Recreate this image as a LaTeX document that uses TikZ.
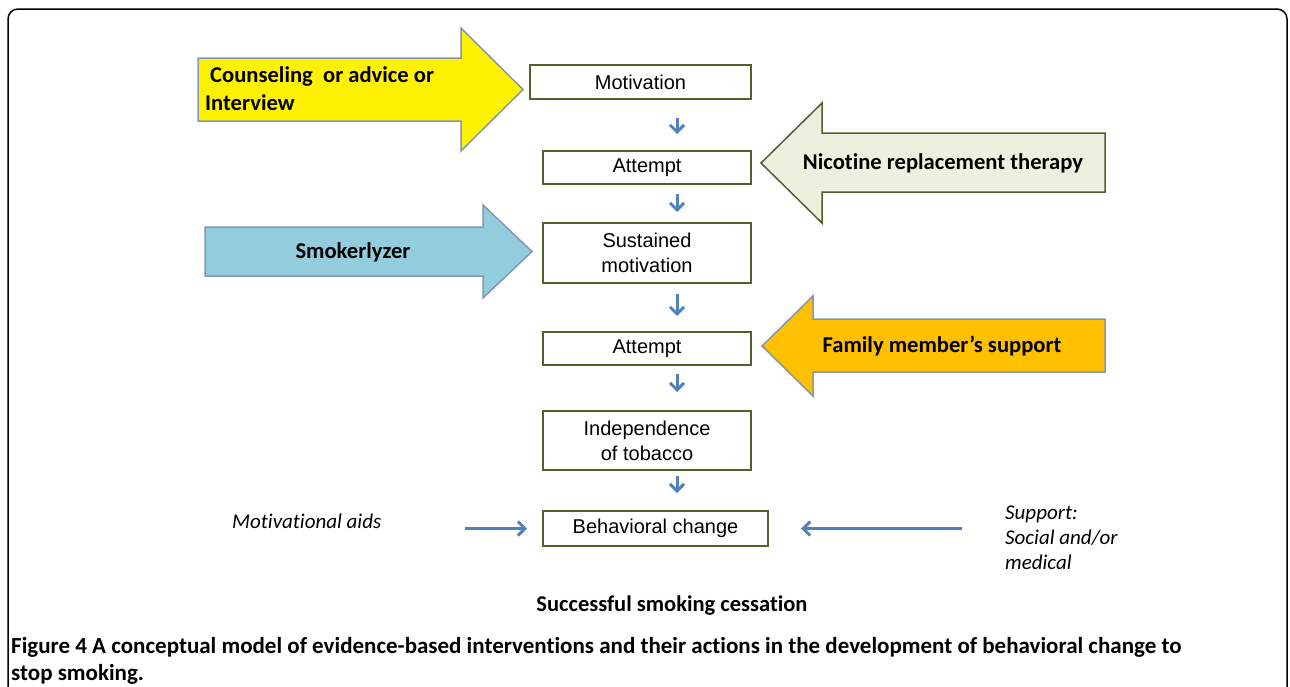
\documentclass[tikz,border=0pt]{standalone}
\usepackage{fontspec}
\setmainfont{Carlito}[Ligatures=NoCommon]
\newfontfamily\arialfont{Liberation Sans}
\usetikzlibrary{arrows.meta}
\definecolor{boxgreen}{HTML}{4F6228}
\definecolor{flowblue}{HTML}{4F81BD}
\definecolor{edgeblue}{HTML}{8497B0}
\definecolor{nrtfill}{HTML}{EBF1DE}
\definecolor{smokefill}{HTML}{93CDDD}
\definecolor{famfill}{HTML}{FFC000}
\begin{document}
\begin{tikzpicture}[x=1pt,y=-1pt,
  stage/.style={draw=boxgreen,line width=2pt,fill=white,inner sep=0pt,align=center,font=\arialfont\fontsize{20}{25}\selectfont},
  flow/.style={draw=flowblue,line width=3pt,-{Straight Barb[length=7pt,width=14pt]}},
  aid/.style={line width=1.5pt,line join=miter},
  aidtext/.style={font=\bfseries\fontsize{22.6}{28}\selectfont,align=left,inner sep=0pt},
  note/.style={font=\itshape\fontsize{21}{25}\selectfont,align=left,anchor=west,inner sep=0pt}]
\useasboundingbox (0,0) rectangle (1290,686);
\clip (0,0) rectangle (1290,686);
\draw[line width=1.5pt,rounded corners=10pt] (8,9) rectangle (1287,720);
% interventions
\draw[aid,draw=edgeblue,fill=yellow] (198,58) -- (461,58) -- (461,28) -- (523,89.5) -- (461,151) -- (461,121) -- (198,121) -- cycle;
\node[aidtext,anchor=west] (couns) at (205,89) {\hspace{5pt}Counseling\ \ or advice or\\Interview};
\draw[aid,draw=boxgreen,fill=nrtfill] (761,163) -- (822,103) -- (822,133) -- (1105,133) -- (1105,192) -- (822,192) -- (822,223) -- cycle;
\node[aidtext] (nrt) at (943,163) {Nicotine replacement therapy};
\draw[aid,draw=edgeblue,fill=smokefill] (205,227) -- (483,227) -- (483,205) -- (532,251.5) -- (483,298) -- (483,276) -- (205,276) -- cycle;
\node[aidtext] (smk) at (353,252) {Smokerlyzer};
\draw[aid,draw=edgeblue,fill=famfill] (762,346) -- (813,296) -- (813,319) -- (1105,319) -- (1105,372) -- (813,372) -- (813,396) -- cycle;
\node[aidtext] (fam) at (942,346) {Family member’s support};
% stages
\node[stage,minimum width=221pt,minimum height=34pt] (mot) at (640.5,82) {Motivation};
\node[stage,minimum width=208pt,minimum height=33pt] (att1) at (647,167.5) {Attempt};
\node[stage,minimum width=208pt,minimum height=60pt] (sus) at (647,253) {Sustained\\motivation};
\node[stage,minimum width=208pt,minimum height=33pt] (att2) at (647,348.5) {Attempt};
\node[stage,minimum width=208pt,minimum height=59pt] (ind) at (647,440.5) {Independence\\of tobacco};
\node[stage,minimum width=225pt,minimum height=35pt] (beh) at (655.5,528.5) {Behavioral change};
\coordinate (axis) at (677,0);
\foreach \a/\b/\s/\e in {mot/att1/18/16,att1/sus/9/10,sus/att2/10/15,att2/ind/8/18,ind/beh/5/17}
  \draw[flow,shorten <=\s pt,shorten >=\e pt] (\a.south -| axis) -- (\b.north -| axis);
% aids and support
\node[note] (aids) at (232,521) {Motivational aids};
\node[note] (supp) at (1005,538) {Support:\\Social and/or\\medical};
\draw[flow,shorten <=83pt,shorten >=15pt] (aids.east |- beh.west) -- (beh.west);
\draw[flow,shorten <=43pt,shorten >=32pt] (supp.west |- beh.east) -- (beh.east);
\node[font=\bfseries\fontsize{22.5}{24}\selectfont] (goal) at (672,606) {Successful smoking cessation};
\node[font=\bfseries\fontsize{23}{27}\selectfont,align=left,anchor=north west,inner sep=0pt] (cap) at (11,637) {Figure 4 A conceptual model of evidence-based interventions and their actions in the development of behavioral change to\\stop smoking.};
\end{tikzpicture}
\end{document}
